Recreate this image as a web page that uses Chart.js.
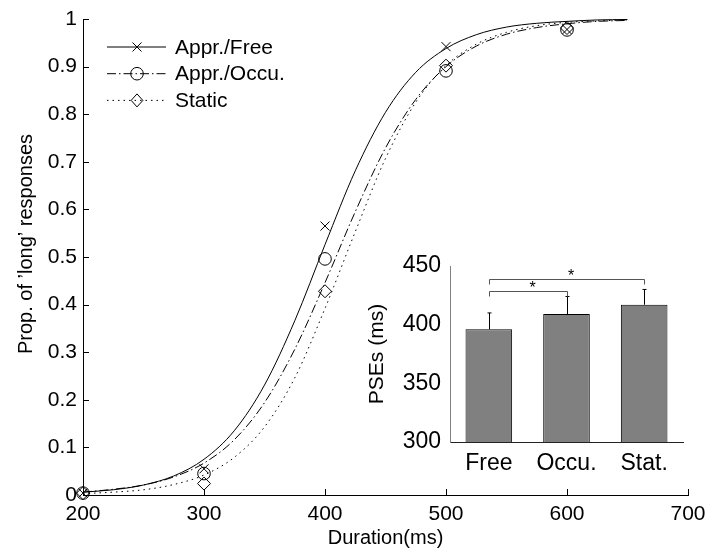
<!DOCTYPE html>
<html>
<head>
<meta charset="utf-8">
<script src="https://cdn.jsdelivr.net/npm/chart.js@4.4.0/dist/chart.umd.min.js"></script>
<style>
  html, body { margin: 0; padding: 0; background: #fff; }
  #wrap { position: relative; width: 707px; height: 552px; }
  #main { position: absolute; left: 0; top: 0; }
  #inset { position: absolute; left: 350px; top: 240px; }
</style>
</head>
<body>
<div id="wrap">
  <canvas id="main" width="707" height="552"></canvas>
  <canvas id="inset" width="357" height="240"></canvas>
</div>
<script>
// fitted curves, every 25 ms
const curveX = [200, 225, 250, 275, 300, 325, 350, 375, 400, 425, 450, 475, 500, 525, 550, 575, 600, 625, 650];
const freeCurve = [0.006, 0.011, 0.021, 0.040, 0.075, 0.135, 0.231, 0.366, 0.526, 0.681, 0.804, 0.888, 0.938, 0.967, 0.983, 0.991, 0.995, 0.998, 0.999];
const occuCurve = [0.006, 0.012, 0.021, 0.038, 0.067, 0.116, 0.194, 0.306, 0.446, 0.595, 0.729, 0.831, 0.900, 0.943, 0.968, 0.982, 0.990, 0.995, 0.997];
const statCurve = [0.003, 0.006, 0.011, 0.022, 0.042, 0.079, 0.143, 0.246, 0.392, 0.553, 0.707, 0.825, 0.902, 0.947, 0.972, 0.986, 0.993, 0.996, 0.998];

// observed proportions
const durations = [200, 300, 400, 500, 600];
const freeObs = [0.004, 0.055, 0.565, 0.942, 0.978];
const occuObs = [0.004, 0.045, 0.496, 0.891, 0.977];
const statObs = [0.004, 0.024, 0.428, 0.902, 0.981];
const seriesNames = ['Appr./Free', 'Appr./Occu.', 'Static'];

const xTicks = [200, 300, 400, 500, 600, 700];
const yTicks = [0, 0.1, 0.2, 0.3, 0.4, 0.5, 0.6, 0.7, 0.8, 0.9, 1];

// inset: PSEs
const pseCats = ['Free', 'Occu.', 'Stat.'];
const pseMean = [396, 409, 417];
const pseErr = [14, 15, 13];
const pseTicks = [300, 350, 400, 450];
const sigPairs = [[0, 1], [0, 2]];
const sigLevel = [429, 439];

const FONT = '"Liberation Sans", Arial, sans-serif';
const toXY = (xs, ys) => xs.map((x, i) => ({ x: x, y: ys[i] }));

function marker(ctx, style, x, y, r) {
  ctx.beginPath();
  if (style === 'crossRot') {
    const d = r * Math.SQRT1_2;
    ctx.moveTo(x - d, y - d); ctx.lineTo(x + d, y + d);
    ctx.moveTo(x - d, y + d); ctx.lineTo(x + d, y - d);
  } else if (style === 'circle') {
    ctx.arc(x, y, r, 0, Math.PI * 2);
  } else {
    ctx.moveTo(x, y - r); ctx.lineTo(x + r * 0.9, y);
    ctx.lineTo(x, y + r); ctx.lineTo(x - r * 0.9, y); ctx.closePath();
  }
  ctx.stroke();
}

// fixed axis boxes, no extra room for edge labels
const fixW = w => s => { s.width = w; s.paddingTop = 0; s.paddingBottom = 0; };
const fixH = h => s => { s.height = h; s.paddingLeft = 0; s.paddingRight = 0; };

const mainDecor = {
  id: 'mainDecor',
  afterDraw(chart) {
    const ctx = chart.ctx;
    const xs = chart.scales.x, ys = chart.scales.y;
    const a = chart.chartArea;
    ctx.save();
    ctx.strokeStyle = '#000';
    ctx.lineWidth = 1;
    // inward tick marks
    ctx.beginPath();
    xs.ticks.forEach(t => {
      const px = Math.round(xs.getPixelForValue(t.value)) + 0.5;
      ctx.moveTo(px, a.bottom); ctx.lineTo(px, a.bottom - 6);
    });
    ys.ticks.forEach(t => {
      const py = Math.round(ys.getPixelForValue(t.value)) + 0.5;
      ctx.moveTo(a.left, py); ctx.lineTo(a.left + 6, py);
    });
    ctx.stroke();
    // y axis title
    ctx.fillStyle = '#000';
    ctx.font = '20px ' + FONT;
    ctx.textAlign = 'center';
    ctx.textBaseline = 'middle';
    ctx.save();
    ctx.translate(26, 244);
    ctx.rotate(-Math.PI / 2);
    ctx.fillText('Prop. of ’long’ responses', 0, 0);
    ctx.restore();
    // legend
    ctx.font = '21px ' + FONT;
    ctx.textAlign = 'left';
    seriesNames.forEach((name, i) => {
      const ln = chart.data.datasets[i];
      const pt = chart.data.datasets[i + 3];
      const y = 47 + i * 26.7;
      ctx.setLineDash(ln.borderDash || []);
      ctx.beginPath(); ctx.moveTo(107, y); ctx.lineTo(166, y); ctx.stroke();
      ctx.setLineDash([]);
      marker(ctx, pt.pointStyle, 137, y, pt.pointRadius);
      ctx.fillText(name, 175, y + 1);
    });
    ctx.restore();
  }
};

const lineSet = (label, ys, dash) => ({
  label: label, data: toXY(curveX, ys), borderColor: '#000', borderWidth: 1,
  borderDash: dash, pointRadius: 0, cubicInterpolationMode: 'monotone', fill: false
});
const pointSet = (label, ys, style, r) => ({
  label: label, data: toXY(durations, ys), showLine: false, pointStyle: style,
  pointRadius: r, pointBorderColor: '#000', pointBackgroundColor: 'rgba(0,0,0,0)',
  pointBorderWidth: 1, clip: false
});

new Chart(document.getElementById('main').getContext('2d'), {
  type: 'line',
  data: {
    datasets: [
      lineSet(seriesNames[0], freeCurve, []),
      lineSet(seriesNames[1], occuCurve, [9, 3, 1.5, 3]),
      lineSet(seriesNames[2], statCurve, [1.5, 4]),
      pointSet(seriesNames[0], freeObs, 'crossRot', 6.4),
      pointSet(seriesNames[1], occuObs, 'circle', 6.3),
      pointSet(seriesNames[2], statObs, 'rectRot', 6.5)
    ]
  },
  options: {
    responsive: false,
    animation: false,
    layout: { padding: { top: 19, right: 19, left: 0, bottom: 0 } },
    plugins: { legend: { display: false }, tooltip: { enabled: false } },
    scales: {
      x: {
        type: 'linear', min: 200, max: 700,
        afterBuildTicks: s => { s.ticks = xTicks.map(v => ({ value: v })); },
        afterFit: fixH(57),
        grid: { display: false, drawTicks: false },
        border: { color: '#000', width: 1 },
        ticks: { color: '#000', padding: 7, font: { family: FONT, size: 21 }, maxRotation: 0 },
        title: { display: true, text: 'Duration(ms)', color: '#000', font: { family: FONT, size: 20 }, padding: { bottom: 2 } }
      },
      y: {
        type: 'linear', min: 0, max: 1,
        afterBuildTicks: s => { s.ticks = yTicks.map(v => ({ value: v })); },
        afterFit: fixW(83),
        grid: { display: false, drawTicks: false },
        border: { color: '#000', width: 1 },
        ticks: { color: '#000', padding: 6, font: { family: FONT, size: 21 }, callback: v => String(+v.toFixed(1)) }
      }
    }
  },
  plugins: [mainDecor]
});

const insetDecor = {
  id: 'insetDecor',
  afterDatasetsDraw(chart) {
    const ctx = chart.ctx;
    const xs = chart.scales.x, ys = chart.scales.y;
    ctx.save();
    ctx.lineWidth = 1;
    // error bars
    ctx.strokeStyle = '#000';
    ctx.beginPath();
    pseMean.forEach((m, i) => {
      const px = Math.round(xs.getPixelForValue(i)) + 0.5;
      const top = ys.getPixelForValue(m + pseErr[i]);
      ctx.moveTo(px, ys.getPixelForValue(m)); ctx.lineTo(px, top);
      ctx.moveTo(px - 2, top); ctx.lineTo(px + 2, top);
    });
    ctx.stroke();
    // significance brackets
    ctx.strokeStyle = '#555';
    ctx.fillStyle = '#000';
    ctx.font = '16px ' + FONT;
    ctx.textAlign = 'center';
    ctx.textBaseline = 'middle';
    sigPairs.forEach((p, k) => {
      const x1 = Math.round(xs.getPixelForValue(p[0])) + 0.5;
      const x2 = Math.round(xs.getPixelForValue(p[1])) + 0.5;
      const y = Math.round(ys.getPixelForValue(sigLevel[k])) + 0.5;
      ctx.beginPath();
      ctx.moveTo(x1, y + 5); ctx.lineTo(x1, y); ctx.lineTo(x2, y); ctx.lineTo(x2, y + 5);
      ctx.stroke();
      ctx.fillText('*', (x1 + x2) / 2 + 4, y - 3);
    });
    ctx.restore();
  }
};

new Chart(document.getElementById('inset').getContext('2d'), {
  type: 'bar',
  data: {
    labels: pseCats,
    datasets: [{
      label: 'PSEs (ms)', data: pseMean, backgroundColor: '#808080',
      borderColor: '#000', borderWidth: 1, barPercentage: 0.6, categoryPercentage: 1
    }]
  },
  options: {
    responsive: false,
    animation: false,
    layout: { padding: { top: 26, right: 24, left: 0, bottom: 0 } },
    plugins: { legend: { display: false }, tooltip: { enabled: false } },
    scales: {
      x: {
        afterFit: fixH(38),
        grid: { display: false, drawTicks: false },
        border: { color: '#222', width: 1 },
        ticks: { color: '#000', padding: 8, font: { family: FONT, size: 23 }, maxRotation: 0 }
      },
      y: {
        min: 300, max: 450,
        afterBuildTicks: s => { s.ticks = pseTicks.map(v => ({ value: v })); },
        afterFit: fixW(100),
        grid: { display: false, drawTicks: false },
        border: { color: '#808080', width: 1 },
        ticks: { color: '#000', padding: 9, font: { family: FONT, size: 23 } },
        title: { display: true, text: 'PSEs (ms)', color: '#000', font: { family: FONT, size: 21 }, padding: { top: 15 } }
      }
    }
  },
  plugins: [insetDecor]
});
</script>
</body>
</html>
